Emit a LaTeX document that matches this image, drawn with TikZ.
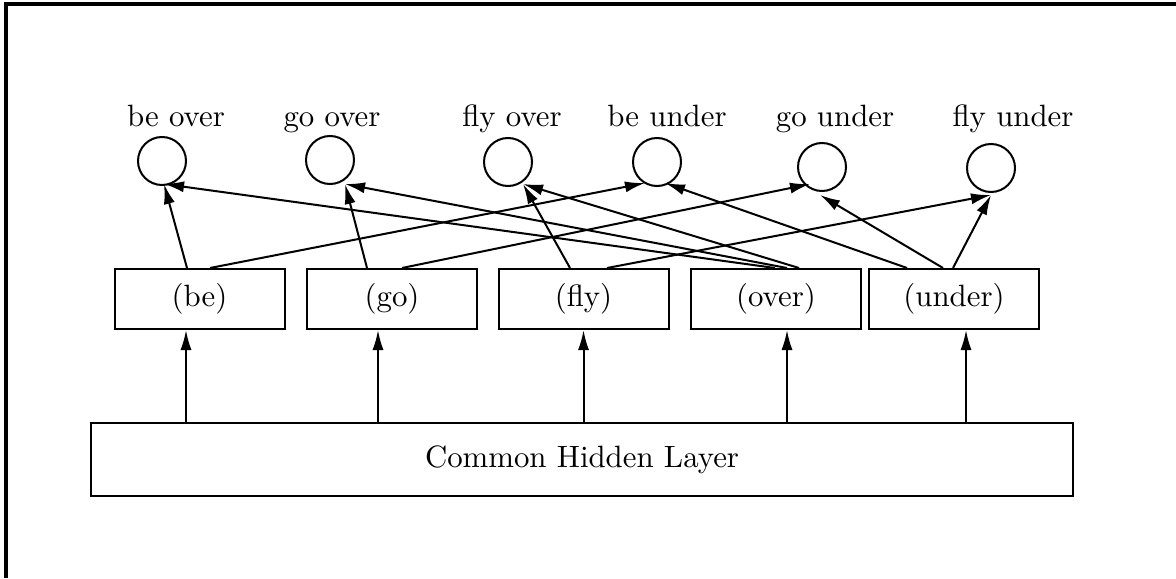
\documentclass[tikz,border=0pt]{standalone}
\usetikzlibrary{arrows.meta, calc}

\newcommand{\pxu}{0.0114cm}

\begin{document}
\begin{tikzpicture}[x=\pxu, y=-\pxu, >={Latex[length=6.5pt, width=3.6pt]}, line width=0.65pt,
    unit/.style={circle, draw, minimum size=48*\pxu, inner sep=0pt},
    word/.style={anchor=base},
    feat/.style={draw, minimum width=170*\pxu, minimum height=60*\pxu, inner sep=0pt}]

    \useasboundingbox (0,0) rectangle (1176,578);

    % --- frame (only top and left edges show) ---
    \draw [line width=1pt] (6,578) -- (6,4) -- (1176,4);

    % --- output units ---
    \node [unit] (beover)   at (162,161) {};
    \node [unit] (goover)   at (330,160) {};
    \node [unit] (flyover)  at (508,162) {};
    \node [unit] (beunder)  at (657,162) {};
    \node [unit] (gounder)  at (822,167) {};
    \node [unit] (flyunder) at (991,168) {};

    \node [word] (lbeover)   at (176,126)  {be over};
    \node [word] (lgoover)   at (332,126)  {go over};
    \node [word] (lflyover)  at (512,126)  {fly over};
    \node [word] (lbeunder)  at (667,126)  {be under};
    \node [word] (lgounder)  at (835,126)  {go under};
    \node [word] (lflyunder) at (1013,126) {fly under};

    % --- feature boxes ---
    \node [feat] (be)    at (199.5,299) {(be)};
    \node [feat] (go)    at (392,299)   {(go)};
    \node [feat] (fly)   at (583.5,299) {(fly)};
    \node [feat] (over)  at (776,299)   {(over)};
    \node [feat] (under) at (954,299)   {(under)};

    % --- hidden layer ---
    \node [draw, minimum width=982*\pxu, minimum height=73*\pxu, inner sep=0pt]
        (hidden) at (582,459.5) {Common Hidden Layer};

    \foreach \n/\d in {be/-13.5, go/-14, fly/0, over/11, under/12}
        \draw [->] ($(hidden.north -| \n.south)+(\d,0)$) -- ($(\n.south)+(\d,0)$);

    % --- features to outputs ---
    \foreach \s/\a/\t/\p/\q in {be/-12.5/beover/2/23, be/10.5/beunder/-12/21,
            go/-25/goover/15/24, go/10/gounder/-12/17,
            fly/-13.5/flyover/15/22, fly/23.5/flyunder/0/27,
            over/-1/beover/2/23, over/11/goover/15/24, over/23/flyover/15/22,
            under/-47/beunder/8/21, under/-11/gounder/-2/28, under/-1/flyunder/0/27}
        \draw [->] ($(\s.north)+(\a,0)$) -- ($(\t)+(\p,\q)$);

\end{tikzpicture}
\end{document}
